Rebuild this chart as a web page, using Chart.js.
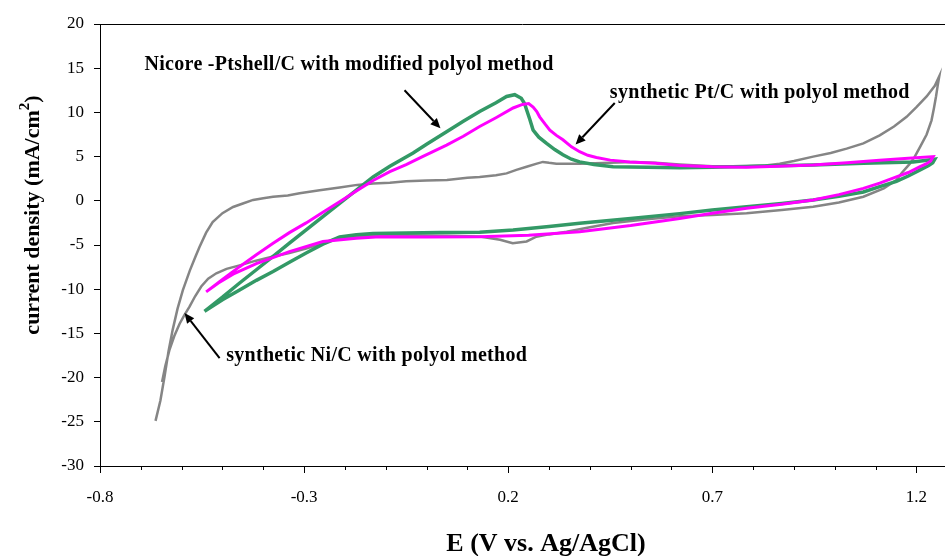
<!DOCTYPE html>
<html>
<head>
<meta charset="utf-8">
<script src="https://cdn.jsdelivr.net/npm/chart.js@4.4.1/dist/chart.umd.min.js"></script>
<style>
  html, body { margin: 0; padding: 0; background: #fff; overflow: hidden; }
  #wrap { width: 945px; height: 556px; }
</style>
</head>
<body>
<div id="wrap"><canvas id="c" width="945" height="556"></canvas></div>
<script>
// ---------- data ----------
// synthetic Ni/C with polyol method (gray)
const niE = [-0.664,-0.652,-0.642,-0.632,-0.622,-0.61,-0.597,-0.58,-0.566,-0.556,-0.54,-0.524,-0.5,-0.474,-0.45,-0.425,-0.4,-0.376,-0.34,-0.311,-0.262,-0.213,-0.17,-0.131,-0.09,-0.05,0.0,0.05,0.1,0.13,0.17,0.196,0.22,0.245,0.27,0.285,0.3,0.318,0.375,0.45,0.506,0.56,0.62,0.7,0.784,0.83,0.865,0.9,0.947,0.99,1.029,1.07,1.11,1.145,1.176,1.2,1.225,1.245,1.256,
  1.252,1.248,1.243,1.237,1.225,1.209,1.196,1.184,1.165,1.151,1.12,1.07,1.01,0.947,0.87,0.784,0.7,0.62,0.54,0.457,0.4,0.343,0.3,0.269,0.245,0.211,0.18,0.13,0.05,-0.05,-0.131,-0.18,-0.229,-0.26,-0.295,-0.336,-0.376,-0.42,-0.458,-0.49,-0.515,-0.535,-0.552,-0.567,-0.581,-0.593,-0.605,-0.618,-0.63,-0.64,-0.648];
const niI = [-24.9,-22.6,-19.9,-17,-14.6,-12.2,-10.1,-7.9,-6.3,-5.2,-3.6,-2.4,-1.4,-0.7,-0.3,0.1,0.3,0.45,0.6,0.85,1.2,1.5,1.8,1.95,2.05,2.2,2.3,2.35,2.6,2.7,2.9,3.1,3.5,3.85,4.2,4.4,4.3,4.2,4.2,4.3,4.4,4.3,4.1,3.9,3.9,4.0,4.2,4.5,5.0,5.4,5.9,6.5,7.4,8.4,9.5,10.6,11.8,13,14.1,
  13.0,11.8,10.5,9.1,7.5,6.1,5.0,4.2,3.2,2.35,1.4,0.46,-0.2,-0.67,-1.05,-1.4,-1.6,-1.75,-2.1,-2.5,-3.0,-3.5,-3.8,-4.06,-4.6,-4.8,-4.4,-4.05,-3.95,-3.9,-3.9,-4.1,-4.4,-4.9,-5.4,-5.9,-6.3,-6.8,-7.3,-7.7,-8.2,-8.8,-9.7,-10.8,-12.0,-12.9,-13.9,-15.3,-16.9,-18.7,-20.5];

// synthetic Pt/C with polyol method (magenta)
const ptE = [-0.54,-0.5,-0.458,-0.417,-0.376,-0.336,-0.295,-0.254,-0.213,-0.172,-0.131,-0.09,-0.05,-0.01,0.049,0.09,0.13,0.17,0.212,0.235,0.25,0.261,0.27,0.277,0.29,0.302,0.318,0.334,0.355,0.375,0.395,0.416,0.45,0.498,0.56,0.62,0.7,0.784,0.86,0.947,1.03,1.11,1.18,1.241,
  1.235,1.225,1.209,1.18,1.151,1.11,1.07,1.01,0.947,0.87,0.784,0.7,0.62,0.5,0.375,0.25,0.13,0.0,-0.115,-0.172,-0.254,-0.336,-0.417,-0.47,-0.51,-0.54];
const ptI = [-10.3,-8.9,-7.45,-6.1,-4.8,-3.6,-2.5,-1.3,-0.1,1.1,2.3,3.3,4.1,5.0,6.3,7.3,8.4,9.4,10.5,10.9,11.0,10.6,10.1,9.5,8.7,8.0,7.4,6.9,6.1,5.55,5.15,4.9,4.6,4.4,4.25,4.0,3.85,3.8,3.9,4.05,4.3,4.6,4.8,5.0,
  4.5,4.2,3.86,3.2,2.7,2.0,1.4,0.7,0.1,-0.4,-0.85,-1.4,-2.0,-2.8,-3.5,-3.9,-4.06,-4.1,-4.06,-4.25,-4.6,-5.75,-7.1,-8.2,-9.3,-10.3];

// Nicore-Ptshell/C with modified polyol method (green)
const ncE = [-0.544,-0.5,-0.458,-0.417,-0.376,-0.336,-0.295,-0.254,-0.213,-0.172,-0.131,-0.09,-0.033,0.0,0.049,0.09,0.13,0.17,0.196,0.216,0.232,0.24,0.245,0.253,0.261,0.275,0.294,0.314,0.334,0.355,0.375,0.41,0.457,0.54,0.62,0.7,0.8,0.947,1.07,1.192,1.245,
  1.24,1.23,1.209,1.18,1.151,1.11,1.07,1.01,0.947,0.87,0.784,0.7,0.62,0.5,0.375,0.3,0.212,0.13,0.032,-0.05,-0.131,-0.172,-0.213,-0.254,-0.295,-0.336,-0.376,-0.417,-0.458,-0.5,-0.544];
const ncI = [-12.5,-10.9,-9.3,-7.8,-6.3,-4.8,-3.3,-1.8,-0.3,1.2,2.7,3.9,5.4,6.4,7.8,9.0,10.1,11.1,11.8,12.0,11.6,11.0,10.3,9.2,8.0,7.2,6.5,5.8,5.2,4.7,4.4,4.1,3.86,3.8,3.75,3.8,3.9,4.05,4.25,4.4,4.7,
  4.3,4.0,3.5,2.8,2.2,1.6,1.0,0.5,0.1,-0.3,-0.67,-1.05,-1.45,-2.0,-2.55,-2.9,-3.3,-3.55,-3.6,-3.65,-3.7,-3.85,-4.1,-4.9,-5.9,-6.95,-8.0,-9.0,-10.1,-11.2,-12.5];

// axis ticks
const xTickValues = [-0.8, -0.3, 0.2, 0.7, 1.2];
const xMinorStep = 0.1;
const yTickValues = [-30, -25, -20, -15, -10, -5, 0, 5, 10, 15, 20];

// annotations (anchors in data units)
const labelTexts = ['Nicore -Ptshell/C with modified polyol method', 'synthetic Pt/C with polyol method', 'synthetic Ni/C with polyol method'];
const labelE = [-0.691, 0.449, -0.491];
const labelI = [15.36, 12.25, -17.5];
const arrowFromE = [-0.054, 0.461, -0.507];
const arrowFromI = [12.5, 11.06, -17.8];
const arrowToE = [0.034, 0.365, -0.593];
const arrowToI = [8.2, 6.36, -12.7];

const xTitle = 'E (V vs. Ag/AgCl)';
const yTitleMain = 'current density (mA/cm';
const yTitleSup = '2';
const yTitleEnd = ')';

// ---------- chart ----------
const zip = (xs, ys) => xs.map((v, i) => ({ x: v, y: ys[i] }));
const SERIF = '"Liberation Serif", "Times New Roman", serif';

const decor = {
  id: 'decor',
  afterDatasetsDraw(chart) {
    const { ctx, scales: { x, y } } = chart;
    ctx.save();
    ctx.fillStyle = '#000';
    ctx.strokeStyle = '#000';
    ctx.font = 'bold 20px ' + SERIF;
    if ('letterSpacing' in ctx) ctx.letterSpacing = '0.3px';
    ctx.textAlign = 'left';
    ctx.textBaseline = 'middle';
    labelTexts.forEach((t, i) => {
      ctx.fillText(t, x.getPixelForValue(labelE[i]), y.getPixelForValue(labelI[i]));
    });
    if ('letterSpacing' in ctx) ctx.letterSpacing = '0px';
    for (let i = 0; i < arrowFromE.length; i++) {
      const x0 = x.getPixelForValue(arrowFromE[i]), y0 = y.getPixelForValue(arrowFromI[i]);
      const x1 = x.getPixelForValue(arrowToE[i]), y1 = y.getPixelForValue(arrowToI[i]);
      const ang = Math.atan2(y1 - y0, x1 - x0);
      const hl = 10, hw = 4.5;
      const bx = x1 - hl * Math.cos(ang), by = y1 - hl * Math.sin(ang);
      ctx.lineWidth = 2;
      ctx.beginPath(); ctx.moveTo(x0, y0); ctx.lineTo(bx, by); ctx.stroke();
      ctx.beginPath();
      ctx.moveTo(x1, y1);
      ctx.lineTo(bx + hw * Math.sin(ang), by - hw * Math.cos(ang));
      ctx.lineTo(bx - hw * Math.sin(ang), by + hw * Math.cos(ang));
      ctx.closePath(); ctx.fill();
    }
    ctx.restore();
  },
  afterDraw(chart) {
    const { ctx, chartArea: a, scales: { x } } = chart;
    ctx.save();
    ctx.strokeStyle = '#000';
    ctx.lineWidth = 1;
    // top frame line
    ctx.beginPath();
    ctx.moveTo(a.left, Math.round(a.top) + 0.5);
    ctx.lineTo(a.right, Math.round(a.top) + 0.5);
    ctx.stroke();
    // minor x ticks
    ctx.beginPath();
    for (let v = xTickValues[0]; v <= x.max + 1e-9; v += xMinorStep) {
      const px = Math.round(x.getPixelForValue(v)) + 0.5;
      ctx.moveTo(px, a.bottom);
      ctx.lineTo(px, a.bottom + 4);
    }
    ctx.stroke();
    // axis titles
    ctx.fillStyle = '#000';
    ctx.font = 'bold 26px ' + SERIF;
    ctx.textAlign = 'center';
    ctx.textBaseline = 'alphabetic';
    ctx.fillText(xTitle, 546, 551);
    // y title (rotated)
    ctx.translate(39, 215);
    ctx.rotate(-Math.PI / 2);
    const big = 'bold 22px ' + SERIF, small = 'bold 15px ' + SERIF;
    ctx.font = big;
    const w1 = ctx.measureText(yTitleMain).width;
    ctx.font = small;
    const w2 = ctx.measureText(yTitleSup).width;
    ctx.font = big;
    const w3 = ctx.measureText(yTitleEnd).width;
    let sx = -(w1 + w2 + w3) / 2;
    ctx.textAlign = 'left';
    ctx.fillText(yTitleMain, sx, 0);
    sx += w1;
    ctx.font = small;
    ctx.fillText(yTitleSup, sx, -10);
    sx += w2;
    ctx.font = big;
    ctx.fillText(yTitleEnd, sx, 0);
    ctx.restore();
  }
};

new Chart(document.getElementById('c'), {
  type: 'scatter',
  data: {
    datasets: [
      { label: 'synthetic Pt/C with polyol method', data: zip(ptE, ptI), showLine: true, borderColor: '#ff00ff', borderWidth: 3, pointRadius: 0, tension: 0, fill: false },
      { label: 'Nicore -Ptshell/C with modified polyol method', data: zip(ncE, ncI), showLine: true, borderColor: '#339966', borderWidth: 3.5, pointRadius: 0, tension: 0, fill: false },
      { label: 'synthetic Ni/C with polyol method', data: zip(niE, niI), showLine: true, borderColor: '#858585', borderWidth: 2.5, pointRadius: 0, tension: 0, fill: false }
    ]
  },
  options: {
    responsive: false,
    animation: false,
    devicePixelRatio: 1,
    layout: { padding: { top: 24, right: 0, bottom: 0, left: 0 } },
    plugins: { legend: { display: false }, tooltip: { enabled: false } },
    scales: {
      x: {
        type: 'linear', min: xTickValues[0], max: 1.27,
        afterBuildTicks: s => { s.ticks = xTickValues.map(v => ({ value: v })); },
        afterFit: s => { s.height = 90; },
        ticks: { color: '#000', font: { family: SERIF, size: 17 }, padding: 14, maxRotation: 0, autoSkip: false,
                 callback: v => String(Math.round(v * 10) / 10) },
        grid: { drawOnChartArea: false, drawTicks: true, tickLength: 7, color: '#000', tickColor: '#000' },
        border: { display: true, color: '#000', width: 1 }
      },
      y: {
        type: 'linear', min: yTickValues[0], max: yTickValues[yTickValues.length - 1],
        afterBuildTicks: s => { s.ticks = yTickValues.map(v => ({ value: v })); },
        afterFit: s => { s.width = 100; },
        ticks: { color: '#000', font: { family: SERIF, size: 17 }, padding: 10, callback: v => String(v) },
        grid: { drawOnChartArea: false, drawTicks: true, tickLength: 6, color: '#000', tickColor: '#000' },
        border: { display: true, color: '#000', width: 1 }
      }
    }
  },
  plugins: [decor]
});
</script>
</body>
</html>
